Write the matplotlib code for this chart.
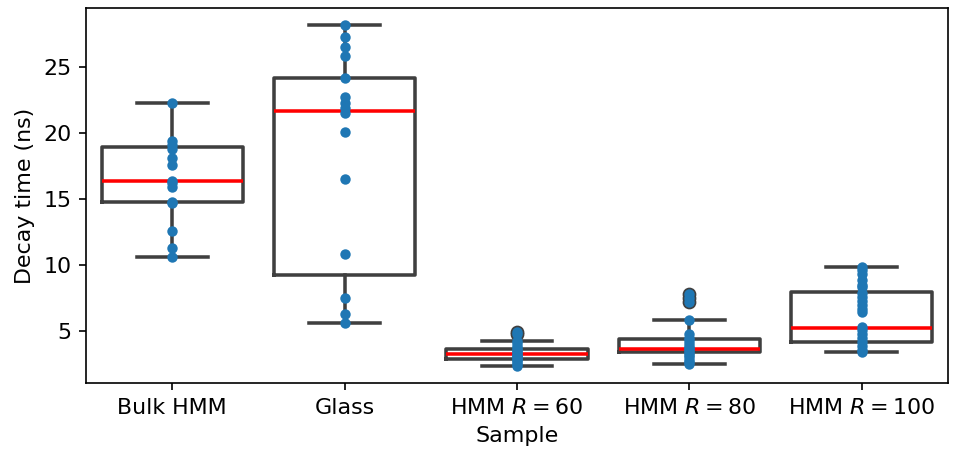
import matplotlib
matplotlib.use("Agg")
import matplotlib.pyplot as plt
import numpy as np

# samples along the x axis
samples = ["Bulk HMM", "Glass", r"HMM $R = 60$", r"HMM $R = 80$", r"HMM $R = 100$"]

# box statistics
medians = [16.39, 21.67, 3.23, 3.64, 5.25]
q1s = [14.75, 9.22, 2.88, 3.43, 4.20]
q3s = [18.92, 24.19, 3.61, 4.42, 7.92]
whisker_lo = [10.63, 5.60, 2.32, 2.50, 3.40]
whisker_hi = [22.30, 28.20, 4.27, 5.83, 9.85]

# individual decay times (ns)
bulk_hmm = [22.3, 19.4, 19.1, 18.8, 18.1, 17.6, 16.4, 16.2, 15.9, 14.8, 14.7, 12.6, 11.3, 10.63]
glass = [28.2, 27.3, 26.5, 25.8, 24.2, 22.75, 22.3, 21.9, 21.5, 20.1, 16.5, 10.8, 7.5, 6.3, 5.6]
hmm_r60 = [4.9, 4.8, 4.27, 4.1, 3.9, 3.75, 3.6, 3.45, 3.3, 3.2, 3.1, 3.0, 2.9, 2.8, 2.65, 2.5, 2.32]
hmm_r80 = [7.8, 7.5, 7.2, 5.83, 4.75, 4.5, 4.3, 4.1, 3.9, 3.75, 3.64, 3.5, 3.35, 3.2, 3.0, 2.8, 2.65, 2.5]
hmm_r100 = [9.85, 9.6, 9.3, 8.9, 8.5, 8.3, 7.9, 7.6, 7.3, 7.0, 6.7, 6.45,
            5.3, 5.1, 4.8, 4.5, 4.2, 3.9, 3.6, 3.4]
all_points = [bulk_hmm, glass, hmm_r60, hmm_r80, hmm_r100]

plt.rcParams["font.size"] = 10.6

fig = plt.figure(figsize=(956 / 150, 456 / 150), dpi=150)
ax = fig.add_axes([0.09, 0.16, 0.9016, 0.8225])

stats = []
for i in range(len(samples)):
    pts = np.array(all_points[i])
    fl = pts[(pts > whisker_hi[i]) | (pts < whisker_lo[i])]
    stats.append(dict(med=medians[i], q1=q1s[i], q3=q3s[i],
                      whislo=whisker_lo[i], whishi=whisker_hi[i], fliers=fl))

gray = "#3f3f3f"
lw = 1.7
ax.bxp(stats, positions=range(len(samples)), widths=0.82, capwidths=0.41,
       boxprops=dict(color=gray, linewidth=lw),
       whiskerprops=dict(color=gray, linewidth=lw),
       capprops=dict(color=gray, linewidth=lw),
       medianprops=dict(color="red", linewidth=lw),
       flierprops=dict(marker="o", markerfacecolor=gray, markeredgecolor=gray,
                       markersize=5.6),
       manage_ticks=False)

for i, pts in enumerate(all_points):
    ax.scatter(np.full(len(pts), i), pts, s=25, color="#1f77b4",
               linewidths=0, zorder=3)

ax.set_xlim(-0.5, len(samples) - 0.5)
ax.set_ylim(1.06, 29.47)
ax.set_xticks(range(len(samples)))
ax.set_xticklabels(samples)
ax.set_yticks([5, 10, 15, 20, 25])
ax.set_xlabel("Sample")
ax.set_ylabel("Decay time (ns)")

fig.savefig("out.png", dpi=150)
